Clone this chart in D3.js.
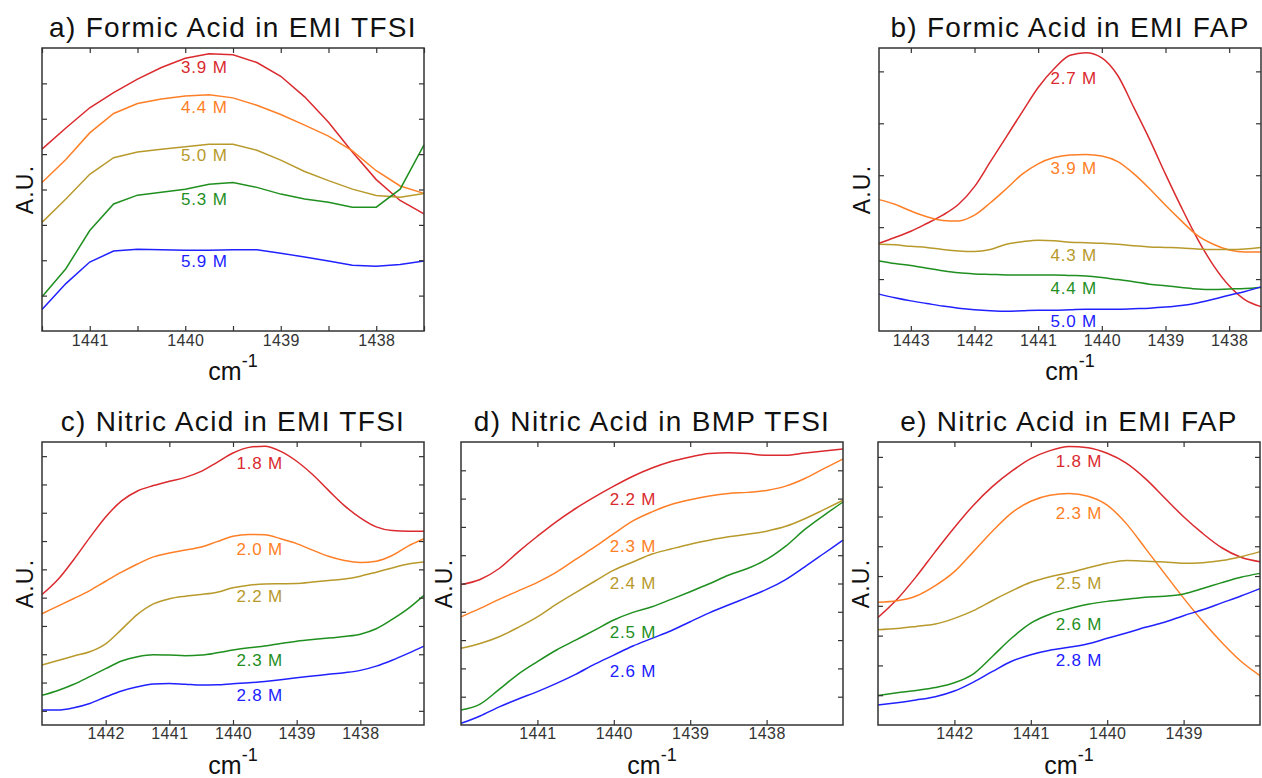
<!DOCTYPE html>
<html>
<head>
<meta charset="utf-8">
<script src="https://cdn.jsdelivr.net/npm/d3@7"></script>
<style>
body{margin:0;background:#fff;}
text{font-family:"Liberation Sans",Arial,Helvetica,sans-serif;}
</style>
</head>
<body>
<div class="canvas"></div>
<script>
// ---- data ----
const titles=["a) Formic Acid in EMI TFSI","b) Formic Acid in EMI FAP","c) Nitric Acid in EMI TFSI","d) Nitric Acid in BMP TFSI","e) Nitric Acid in EMI FAP"];
const colors=["#da2a2e","#ff7f27","#b89a2c","#1f8f1f","#2121ff"];

// panel a
const xA=[1441.5,1441.25,1441,1440.75,1440.5,1440.25,1440,1439.75,1439.5,1439.25,1439,1438.75,1438.5,1438.25,1438,1437.75,1437.5];
const concA=["3.9 M","4.4 M","5.0 M","5.3 M","5.9 M"];
const seriesA=[
  [5.14,5.74,6.31,6.74,7.12,7.45,7.71,7.84,7.81,7.59,7.20,6.62,5.90,5.06,4.28,3.69,3.31],
  [4.20,4.85,5.60,6.15,6.43,6.56,6.64,6.68,6.59,6.38,6.12,5.82,5.51,5.09,4.53,4.10,3.89],
  [3.07,3.73,4.43,4.90,5.06,5.14,5.21,5.28,5.28,5.11,4.83,4.51,4.25,4.01,3.83,3.78,3.89],
  [0.97,1.76,2.84,3.59,3.84,3.92,4.01,4.15,4.20,4.06,3.87,3.73,3.64,3.50,3.50,4.01,5.26],
  [0.61,1.34,1.95,2.26,2.31,2.30,2.28,2.28,2.30,2.30,2.20,2.09,1.98,1.86,1.83,1.88,1.98]
];
const labelXA=1439.8, labelYA=[7.29,6.15,4.81,3.56,1.81];

// panel b
const xB=[1443.5,1443.25,1443,1442.75,1442.5,1442.25,1442,1441.75,1441.5,1441.25,1441,1440.75,1440.5,1440.25,1440,1439.75,1439.5,1439.25,1439,1438.75,1438.5,1438.25,1438,1437.75,1437.5];
const concB=["2.7 M","3.9 M","4.3 M","4.4 M","5.0 M"];
const seriesB=[
  [1.69,1.80,1.92,2.07,2.23,2.44,2.78,3.26,3.74,4.22,4.69,5.05,5.31,5.36,5.26,4.92,4.31,3.69,3.02,2.38,1.78,1.27,0.87,0.60,0.47],
  [2.53,2.44,2.31,2.20,2.13,2.12,2.23,2.47,2.74,3.02,3.22,3.34,3.39,3.40,3.37,3.26,3.03,2.74,2.42,2.12,1.84,1.67,1.56,1.52,1.52],
  [1.67,1.66,1.63,1.61,1.57,1.54,1.53,1.57,1.67,1.72,1.75,1.74,1.71,1.70,1.69,1.67,1.64,1.62,1.61,1.60,1.58,1.57,1.57,1.58,1.61],
  [1.35,1.30,1.26,1.21,1.16,1.12,1.10,1.09,1.08,1.08,1.08,1.08,1.07,1.06,1.03,0.99,0.95,0.90,0.87,0.84,0.81,0.80,0.81,0.82,0.84],
  [0.71,0.64,0.58,0.53,0.48,0.44,0.41,0.39,0.38,0.39,0.40,0.40,0.41,0.42,0.42,0.42,0.43,0.44,0.46,0.49,0.54,0.61,0.69,0.76,0.85]
];
const labelXB=1440.44, labelYB=[4.75,3.02,1.35,0.71,0.07];

// panel c
const xC=[1443,1442.75,1442.5,1442.25,1442,1441.75,1441.5,1441.25,1441,1440.75,1440.5,1440.25,1440,1439.75,1439.5,1439.25,1439,1438.75,1438.5,1438.25,1438,1437.75,1437.5,1437.25,1437];
const concC=["1.8 M","2.0 M","2.2 M","2.3 M","2.8 M"];
const seriesC=[
  [5.11,5.64,6.35,7.12,7.85,8.42,8.77,8.96,9.11,9.25,9.46,9.78,10.11,10.31,10.35,10.17,9.82,9.35,8.79,8.25,7.82,7.50,7.37,7.35,7.35],
  [4.43,4.70,4.97,5.25,5.58,5.90,6.19,6.44,6.58,6.68,6.79,6.98,7.17,7.23,7.22,7.08,6.91,6.68,6.46,6.31,6.24,6.29,6.49,6.82,7.08],
  [2.62,2.78,2.94,3.09,3.37,3.88,4.41,4.78,4.96,5.05,5.11,5.19,5.35,5.44,5.48,5.49,5.50,5.55,5.61,5.66,5.76,5.90,6.05,6.19,6.26],
  [1.55,1.72,1.94,2.21,2.49,2.76,2.91,2.98,2.97,2.95,2.97,3.05,3.15,3.23,3.29,3.38,3.46,3.52,3.57,3.63,3.71,3.90,4.23,4.61,5.08],
  [1.03,1.03,1.11,1.26,1.49,1.70,1.85,1.95,1.97,1.94,1.91,1.92,1.96,1.99,2.04,2.10,2.17,2.23,2.29,2.35,2.43,2.58,2.79,3.03,3.29]
];
const labelXC=1439.58, labelYC=[9.56,6.52,4.85,2.58,1.35];

// panel d
const xD=[1442,1441.75,1441.5,1441.25,1441,1440.75,1440.5,1440.25,1440,1439.75,1439.5,1439.25,1439,1438.75,1438.5,1438.25,1438,1437.75,1437.5,1437.25,1437];
const concD=["2.2 M","2.3 M","2.4 M","2.5 M","2.6 M"];
const seriesD=[
  [4.96,5.14,5.53,6.12,6.67,7.19,7.65,8.06,8.44,8.79,9.08,9.31,9.47,9.59,9.62,9.59,9.53,9.53,9.61,9.68,9.75],
  [3.82,4.12,4.44,4.74,5.04,5.40,5.85,6.29,6.76,7.21,7.53,7.79,7.96,8.09,8.18,8.22,8.29,8.44,8.71,9.06,9.40],
  [2.71,2.88,3.12,3.45,3.82,4.27,4.68,5.08,5.47,5.76,6.04,6.22,6.39,6.53,6.65,6.74,6.85,7.02,7.29,7.61,7.94],
  [0.53,0.74,1.26,1.80,2.24,2.65,3.00,3.35,3.71,3.98,4.18,4.44,4.71,4.99,5.29,5.53,5.85,6.32,6.91,7.41,7.88],
  [0.06,0.32,0.64,0.92,1.18,1.47,1.79,2.15,2.47,2.79,3.06,3.33,3.65,3.96,4.24,4.51,4.79,5.14,5.59,6.06,6.53]
];
const labelXD=1439.75, labelYD=[7.79,6.12,4.82,3.06,1.71];

// panel e
const xE=[1443,1442.75,1442.5,1442.25,1442,1441.75,1441.5,1441.25,1441,1440.75,1440.5,1440.25,1440,1439.75,1439.5,1439.25,1439,1438.75,1438.5,1438.25,1438];
const concE=["1.8 M","2.3 M","2.5 M","2.6 M","2.8 M"];
const seriesE=[
  [3.61,4.22,4.98,5.82,6.63,7.38,8.01,8.52,8.94,9.21,9.35,9.31,9.12,8.79,8.27,7.63,6.99,6.43,5.95,5.63,5.48],
  [4.12,4.17,4.33,4.68,5.15,5.82,6.51,7.12,7.51,7.71,7.77,7.68,7.38,6.76,5.93,5.09,4.26,3.48,2.77,2.14,1.66],
  [3.20,3.24,3.31,3.39,3.58,3.84,4.18,4.50,4.79,4.98,5.11,5.28,5.43,5.52,5.50,5.47,5.43,5.45,5.52,5.65,5.82],
  [0.99,1.08,1.16,1.26,1.42,1.72,2.31,2.92,3.42,3.72,3.90,4.05,4.15,4.22,4.29,4.32,4.40,4.58,4.78,4.96,5.09],
  [0.67,0.75,0.84,0.95,1.14,1.44,1.80,2.14,2.36,2.51,2.61,2.73,2.91,3.09,3.28,3.45,3.67,3.87,4.10,4.33,4.58]
];
const labelXE=1440.37, labelYE=[8.66,6.91,4.57,3.20,1.97];

// ---- layout ----
const W=1262,H=778;
const pw=382,ph=283;
const svg=d3.select('.canvas').append('svg')
.attr("width",W)
.attr("height",H);

const panels=[
  {title:titles[0],left:42,top:48,x:xA,series:seriesA,conc:concA,lx:labelXA,ly:labelYA,xd:[1441.5,1437.5],yd:[0,8],xt:d3.range(1441.5,1437.4,-0.5),yt:d3.range(1,8),curve:d3.curveLinear,pad:4},
  {title:titles[1],left:879,top:48,x:xB,series:seriesB,conc:concB,lx:labelXB,ly:labelYB,xd:[1443.5,1437.5],yd:[0,5.45],xt:d3.range(1443,1437.9,-1),yt:d3.range(1,6),curve:d3.curveMonotoneX,pad:4},
  {title:titles[2],left:42,top:442,x:xC,series:seriesC,conc:concC,lx:labelXC,ly:labelYC,xd:[1443,1437],yd:[0.5,10.5],xt:d3.range(1442,1437.9,-1),yt:d3.range(1,11),curve:d3.curveMonotoneX,pad:3},
  {title:titles[3],left:461,top:442,x:xD,series:seriesD,conc:concD,lx:labelXD,ly:labelYD,xd:[1442,1437],yd:[0,10],xt:d3.range(1441,1437.9,-1),yt:d3.range(1,10),curve:d3.curveMonotoneX,pad:3},
  {title:titles[4],left:878,top:442,x:xE,series:seriesE,conc:concE,lx:labelXE,ly:labelYE,xd:[1443,1438],yd:[0,9.5],xt:d3.range(1442,1438.9,-1),yt:d3.range(1,10),curve:d3.curveMonotoneX,pad:3}
];

const axisColor="#333";

panels.forEach(p=>{
  const g=svg.append('g').attr("transform",`translate(${p.left},${p.top})`);
  const x=d3.scaleLinear().domain(p.xd).range([0,pw]);
  const y=d3.scaleLinear().domain(p.yd).range([ph,0]);

  // curves
  const line=d3.line()
    .x((d,i)=>x(p.x[i]))
    .y(d=>y(d))
    .curve(p.curve);
  g.selectAll('path.curve')
    .data(p.series)
    .enter().append('path')
    .attr("class","curve")
    .attr("d",line)
    .attr("fill","none")
    .attr("stroke",(d,i)=>colors[i])
    .attr("stroke-width",1.5);

  // labels
  g.selectAll('text.conc')
    .data(p.conc)
    .enter().append('text')
    .attr("class","conc")
    .attr("x",x(p.lx))
    .attr("y",(d,i)=>y(p.ly[i]))
    .attr("text-anchor","middle")
    .attr("font-size",17)
    .attr("letter-spacing",0.8)
    .attr("fill",(d,i)=>colors[i])
    .text(d=>d);

  // axes, inward ticks on all sides
  const xb=g.append('g').attr("transform",`translate(0,${ph})`)
    .call(d3.axisBottom(x).tickValues(p.xt).tickSizeInner(-5).tickSizeOuter(0).tickPadding(p.pad)
      .tickFormat(d=>Number.isInteger(d)?d:""));
  const xtop=g.append('g')
    .call(d3.axisTop(x).tickValues(p.xt).tickSizeInner(-5).tickSizeOuter(0).tickFormat(""));
  const yl=g.append('g')
    .call(d3.axisLeft(y).tickValues(p.yt).tickSizeInner(-5).tickSizeOuter(0).tickFormat(""));
  const yr=g.append('g').attr("transform",`translate(${pw},0)`)
    .call(d3.axisRight(y).tickValues(p.yt).tickSizeInner(-5).tickSizeOuter(0).tickFormat(""));
  [xb,xtop,yl,yr].forEach(a=>{
    a.select('.domain').remove();
    a.selectAll('line').attr("stroke",axisColor).attr("stroke-width",1.2);
  });
  xb.selectAll('text').attr("font-size",16).attr("letter-spacing",0.4).attr("fill",axisColor)
    .attr("font-family","Liberation Sans, Arial, sans-serif");

  g.append('rect')
    .attr("width",pw).attr("height",ph)
    .attr("fill","none").attr("stroke",axisColor).attr("stroke-width",1.5);

  // title
  g.append('text')
    .attr("x",pw/2).attr("y",-11)
    .attr("text-anchor","middle")
    .attr("font-size",28)
    .attr("letter-spacing",1.3)
    .attr("fill","#111")
    .text(p.title);

  // axis labels
  g.append('text')
    .attr("transform",`translate(-9,${ph/2}) rotate(-90)`)
    .attr("text-anchor","middle")
    .attr("font-size",23)
    .attr("letter-spacing",1.2)
    .attr("fill","#111")
    .text("A.U.");
  const xl=g.append('text')
    .attr("x",pw/2).attr("y",ph+49)
    .attr("text-anchor","middle")
    .attr("font-size",25)
    .attr("fill","#111");
  xl.append('tspan').text("cm");
  xl.append('tspan').attr("dy",-13).attr("font-size",18).text("-1");
});
</script>
</body>
</html>
